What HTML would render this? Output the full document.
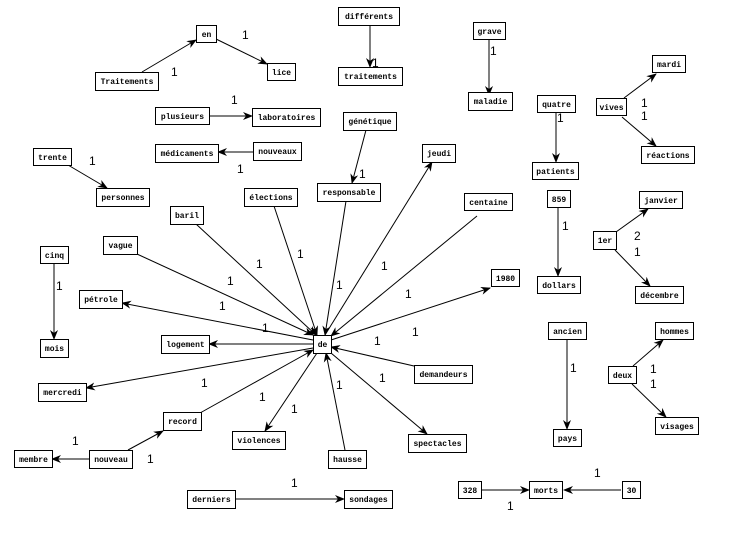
<!DOCTYPE html>
<html><head><meta charset="utf-8"><style>
html,body{margin:0;padding:0;background:#fff}
svg{display:block}
.b{fill:#fff;stroke:#000;stroke-width:1}
.t{font-family:"Liberation Mono",monospace;font-weight:bold;font-size:8px;text-anchor:middle}
.n{font-family:"Liberation Sans",sans-serif;font-size:12px}
line{stroke:#000;stroke-width:1}
</style></head><body>
<svg width="729" height="539" viewBox="0 0 729 539" xmlns="http://www.w3.org/2000/svg">
<defs><marker id="a" markerWidth="10" markerHeight="8" refX="9" refY="4" orient="auto" markerUnits="userSpaceOnUse"><path d="M0,0 L10,4 L0,8 L3,4 z" fill="#000"/></marker></defs>
<g marker-end="url(#a)">
<line x1="142" y1="72" x2="196" y2="40"/>
<line x1="216" y1="39" x2="267" y2="64"/>
<line x1="370" y1="25" x2="370" y2="67"/>
<line x1="489" y1="40" x2="489" y2="95"/>
<line x1="209" y1="116" x2="252" y2="116"/>
<line x1="253" y1="152" x2="218" y2="152"/>
<line x1="366" y1="130" x2="352" y2="183"/>
<line x1="556" y1="113" x2="556" y2="162"/>
<line x1="624" y1="98" x2="656" y2="74"/>
<line x1="622" y1="117" x2="656" y2="146"/>
<line x1="68" y1="165" x2="107" y2="188"/>
<line x1="558" y1="208" x2="558" y2="276"/>
<line x1="616" y1="232" x2="648" y2="209"/>
<line x1="615" y1="250" x2="650" y2="286"/>
<line x1="54" y1="263" x2="54" y2="339"/>
<line x1="567" y1="340" x2="567" y2="429"/>
<line x1="633" y1="366" x2="663" y2="340"/>
<line x1="632" y1="384" x2="666" y2="417"/>
<line x1="235" y1="499" x2="344" y2="499"/>
<line x1="482" y1="490" x2="529" y2="490"/>
<line x1="621" y1="490" x2="564" y2="490"/>
<line x1="89" y1="459" x2="52" y2="459"/>
<line x1="128" y1="450" x2="163" y2="431"/>
<line x1="137" y1="254" x2="313" y2="335"/>
<line x1="196" y1="224" x2="316" y2="335"/>
<line x1="274" y1="206" x2="317" y2="335"/>
<line x1="346" y1="201" x2="325" y2="335"/>
<line x1="325" y1="335" x2="432" y2="162"/>
<line x1="477" y1="216" x2="331" y2="336"/>
<line x1="331" y1="340" x2="490" y2="288"/>
<line x1="313" y1="340" x2="122" y2="303"/>
<line x1="313" y1="344" x2="209" y2="344"/>
<line x1="313" y1="348" x2="86" y2="388"/>
<line x1="200" y1="413" x2="313" y2="350"/>
<line x1="317" y1="353" x2="265" y2="431"/>
<line x1="345" y1="450" x2="326" y2="353"/>
<line x1="414" y1="366" x2="331" y2="347"/>
<line x1="331" y1="353" x2="427" y2="434"/>
</g>
<g>
<rect class="b" x="196.5" y="25.5" width="20" height="17"/><text class="t" x="206.5" y="37">en</text>
<rect class="b" x="267.5" y="63.5" width="28" height="17"/><text class="t" x="281.5" y="75">lice</text>
<rect class="b" x="95.5" y="72.5" width="63" height="18"/><text class="t" x="127" y="84">Traitements</text>
<rect class="b" x="338.5" y="7.5" width="61" height="18"/><text class="t" x="369" y="19">différents</text>
<rect class="b" x="338.5" y="67.5" width="64" height="18"/><text class="t" x="370.5" y="79">traitements</text>
<rect class="b" x="473.5" y="22.5" width="32" height="17"/><text class="t" x="489.5" y="34">grave</text>
<rect class="b" x="468.5" y="92.5" width="44" height="18"/><text class="t" x="490.5" y="104">maladie</text>
<rect class="b" x="155.5" y="107.5" width="54" height="17"/><text class="t" x="182.5" y="119">plusieurs</text>
<rect class="b" x="252.5" y="108.5" width="68" height="18"/><text class="t" x="286.5" y="120">laboratoires</text>
<rect class="b" x="155.5" y="144.5" width="63" height="18"/><text class="t" x="187" y="156">médicaments</text>
<rect class="b" x="253.5" y="142.5" width="48" height="18"/><text class="t" x="277.5" y="154">nouveaux</text>
<rect class="b" x="343.5" y="112.5" width="53" height="18"/><text class="t" x="370" y="124">génétique</text>
<rect class="b" x="537.5" y="95.5" width="38" height="17"/><text class="t" x="556.5" y="107">quatre</text>
<rect class="b" x="532.5" y="162.5" width="46" height="17"/><text class="t" x="555.5" y="174">patients</text>
<rect class="b" x="596.5" y="98.5" width="30" height="17"/><text class="t" x="611.5" y="110">vives</text>
<rect class="b" x="652.5" y="55.5" width="33" height="17"/><text class="t" x="669" y="67">mardi</text>
<rect class="b" x="641.5" y="146.5" width="53" height="17"/><text class="t" x="668" y="158">réactions</text>
<rect class="b" x="33.5" y="148.5" width="38" height="17"/><text class="t" x="52.5" y="160">trente</text>
<rect class="b" x="96.5" y="188.5" width="53" height="18"/><text class="t" x="123" y="200">personnes</text>
<rect class="b" x="422.5" y="144.5" width="33" height="18"/><text class="t" x="439" y="156">jeudi</text>
<rect class="b" x="244.5" y="188.5" width="53" height="18"/><text class="t" x="271" y="200">élections</text>
<rect class="b" x="317.5" y="183.5" width="63" height="18"/><text class="t" x="349" y="195">responsable</text>
<rect class="b" x="170.5" y="206.5" width="33" height="18"/><text class="t" x="187" y="218">baril</text>
<rect class="b" x="464.5" y="193.5" width="48" height="17"/><text class="t" x="488.5" y="205">centaine</text>
<rect class="b" x="547.5" y="190.5" width="23" height="17"/><text class="t" x="559" y="202">859</text>
<rect class="b" x="639.5" y="191.5" width="43" height="17"/><text class="t" x="661" y="203">janvier</text>
<rect class="b" x="593.5" y="231.5" width="23" height="18"/><text class="t" x="605" y="243">1er</text>
<rect class="b" x="103.5" y="236.5" width="34" height="18"/><text class="t" x="120.5" y="248">vague</text>
<rect class="b" x="40.5" y="246.5" width="28" height="17"/><text class="t" x="54.5" y="258">cinq</text>
<rect class="b" x="79.5" y="290.5" width="43" height="18"/><text class="t" x="101" y="302">pétrole</text>
<rect class="b" x="491.5" y="269.5" width="28" height="17"/><text class="t" x="505.5" y="281">1980</text>
<rect class="b" x="313.5" y="335.5" width="18" height="18"/><text class="t" x="322.5" y="347">de</text>
<rect class="b" x="161.5" y="335.5" width="48" height="18"/><text class="t" x="185.5" y="347">logement</text>
<rect class="b" x="40.5" y="339.5" width="28" height="18"/><text class="t" x="54.5" y="351">mois</text>
<rect class="b" x="537.5" y="276.5" width="43" height="17"/><text class="t" x="559" y="288">dollars</text>
<rect class="b" x="635.5" y="286.5" width="48" height="17"/><text class="t" x="659.5" y="298">décembre</text>
<rect class="b" x="548.5" y="322.5" width="38" height="17"/><text class="t" x="567.5" y="334">ancien</text>
<rect class="b" x="655.5" y="322.5" width="38" height="17"/><text class="t" x="674.5" y="334">hommes</text>
<rect class="b" x="414.5" y="365.5" width="58" height="18"/><text class="t" x="443.5" y="377">demandeurs</text>
<rect class="b" x="38.5" y="383.5" width="48" height="18"/><text class="t" x="62.5" y="395">mercredi</text>
<rect class="b" x="608.5" y="366.5" width="28" height="17"/><text class="t" x="622.5" y="378">deux</text>
<rect class="b" x="163.5" y="412.5" width="38" height="18"/><text class="t" x="182.5" y="424">record</text>
<rect class="b" x="232.5" y="431.5" width="53" height="18"/><text class="t" x="259" y="443">violences</text>
<rect class="b" x="408.5" y="434.5" width="58" height="18"/><text class="t" x="437.5" y="446">spectacles</text>
<rect class="b" x="328.5" y="450.5" width="38" height="18"/><text class="t" x="347.5" y="462">hausse</text>
<rect class="b" x="14.5" y="450.5" width="38" height="17"/><text class="t" x="33.5" y="462">membre</text>
<rect class="b" x="89.5" y="450.5" width="43" height="18"/><text class="t" x="111" y="462">nouveau</text>
<rect class="b" x="553.5" y="429.5" width="28" height="17"/><text class="t" x="567.5" y="441">pays</text>
<rect class="b" x="655.5" y="417.5" width="43" height="17"/><text class="t" x="677" y="429">visages</text>
<rect class="b" x="187.5" y="490.5" width="48" height="18"/><text class="t" x="211.5" y="502">derniers</text>
<rect class="b" x="344.5" y="490.5" width="48" height="18"/><text class="t" x="368.5" y="502">sondages</text>
<rect class="b" x="458.5" y="481.5" width="23" height="17"/><text class="t" x="470" y="493">328</text>
<rect class="b" x="529.5" y="481.5" width="33" height="17"/><text class="t" x="546" y="493">morts</text>
<rect class="b" x="622.5" y="481.5" width="18" height="17"/><text class="t" x="631.5" y="493">30</text>
</g>
<g class="n">
<text x="242" y="39">1</text><text x="171" y="76">1</text><text x="231" y="104">1</text><text x="237" y="173">1</text>
<text x="89" y="165">1</text><text x="372" y="67">1</text><text x="359" y="178">1</text>
<text x="490" y="55">1</text><text x="557" y="122">1</text><text x="641" y="107">1</text><text x="641" y="120">1</text>
<text x="562" y="230">1</text><text x="634" y="240">2</text><text x="634" y="256">1</text>
<text x="570" y="372">1</text><text x="650" y="373">1</text><text x="650" y="388">1</text>
<text x="594" y="477">1</text><text x="507" y="510">1</text>
<text x="56" y="290">1</text><text x="227" y="285">1</text><text x="256" y="268">1</text><text x="297" y="258">1</text>
<text x="219" y="310">1</text><text x="262" y="332">1</text><text x="336" y="289">1</text><text x="381" y="270">1</text>
<text x="405" y="298">1</text><text x="412" y="336">1</text><text x="374" y="345">1</text>
<text x="379" y="382">1</text><text x="336" y="389">1</text><text x="291" y="413">1</text><text x="259" y="401">1</text>
<text x="201" y="387">1</text><text x="147" y="463">1</text><text x="72" y="445">1</text><text x="291" y="487">1</text>
</g>
</svg>
</body></html>
